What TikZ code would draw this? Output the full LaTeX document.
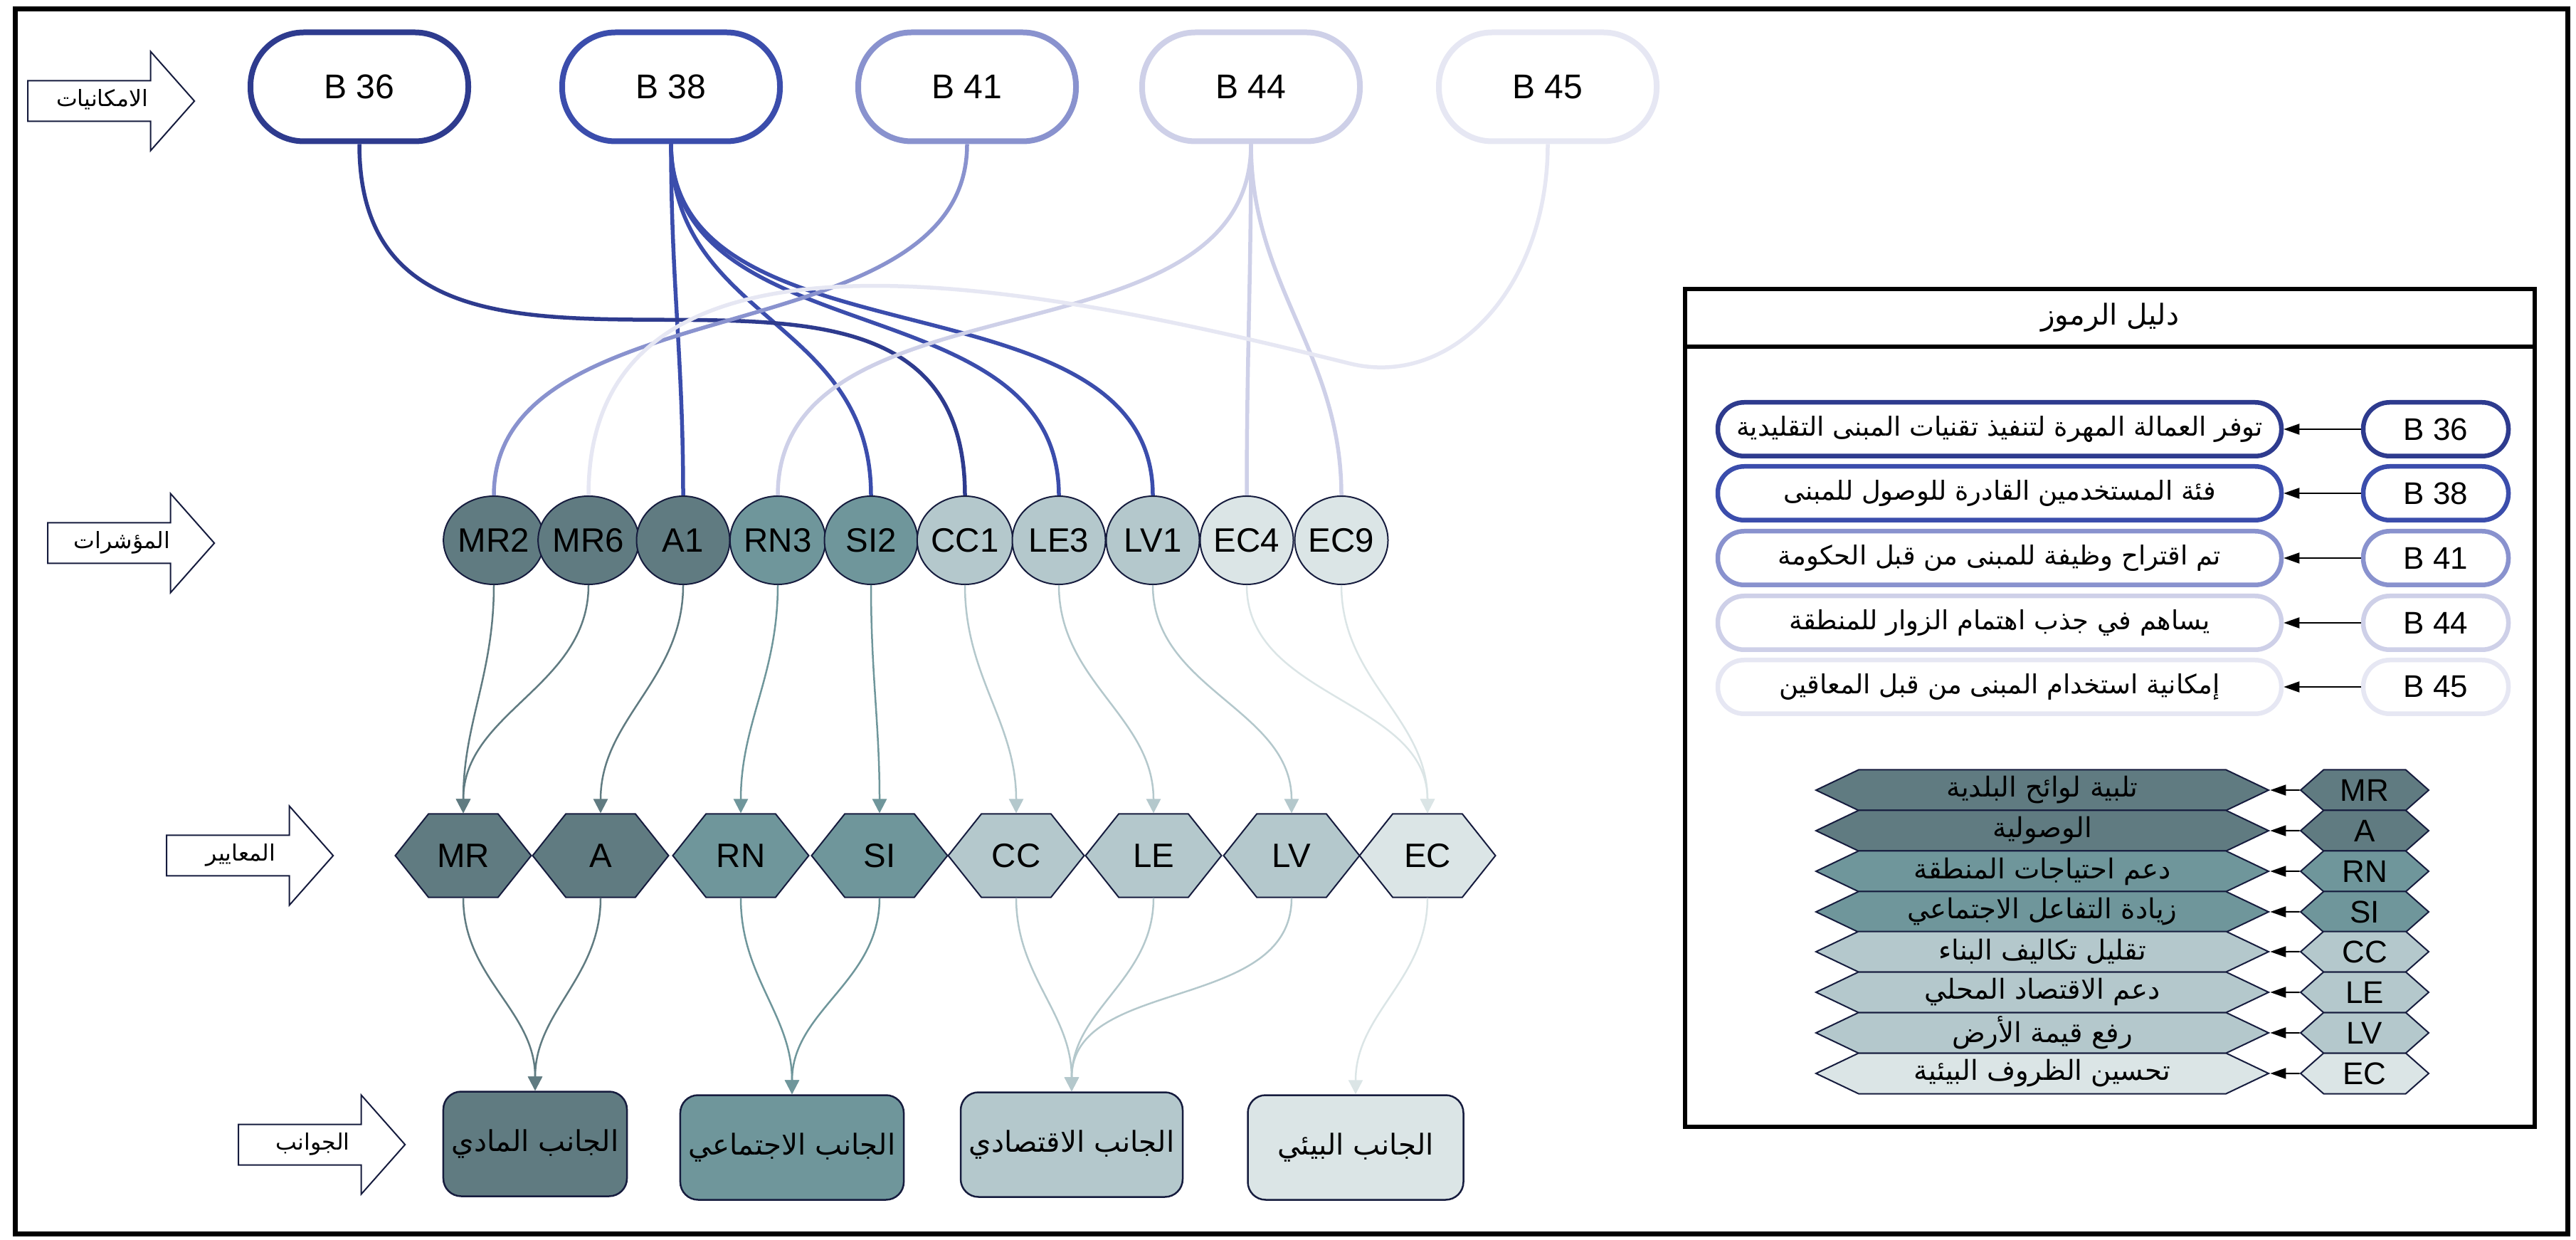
\documentclass[tikz,border=0pt]{standalone}
\usepackage{fontspec}
\setmainfont{Liberation Sans}
\newfontfamily\arabicfont[Script=Arabic]{DejaVu Sans}
\TeXXeTstate=1
\usepackage{tikz}
\usetikzlibrary{arrows.meta}
\usetikzlibrary{shapes.geometric}
\usetikzlibrary{shapes.symbols}
\usetikzlibrary{shapes.arrows}
\usepackage{xcolor}
\definecolor{blueA}{RGB}{46, 59, 142}
\definecolor{blueB}{RGB}{59, 77, 172}
\definecolor{blueC}{RGB}{137, 146, 206}
\definecolor{blueD}{RGB}{206, 208, 232}
\definecolor{blueE}{RGB}{230, 231, 243}
\definecolor{tealA}{RGB}{96, 123, 129}
\definecolor{tealB}{RGB}{111, 150, 155}
\definecolor{tealC}{RGB}{180, 200, 204}
\definecolor{tealD}{RGB}{219, 229, 230}
\definecolor{navy}{RGB}{22, 28, 62}
\newcommand{\artext}[1]{{\arabicfont\beginR #1\endR}}

\begin{document}
\begin{tikzpicture}
        [potential/.style = {draw=#1, fill=white, text=black, line width=0.8mm, rounded corners=7.5mm, minimum width=30.6mm, minimum height=15.3mm, font=\fontsize{13.7}{16}\selectfont},
        indicator/.style = {draw=navy, fill=#1, text=black, ellipse, line width=0.2mm, inner sep=0pt, minimum width=13.1mm, minimum height=12.4mm, font=\fontsize{13.5}{16}\selectfont},
        criterion/.style = {draw=navy, fill=#1, text=black, signal, signal to=east and west, signal pointer angle=103, line width=0.2mm, inner sep=0pt, minimum width=19.1mm, minimum height=11.7mm, font=\fontsize{13.5}{16}\selectfont},
        aspect/.style = {draw=navy, fill=#1, text=black, rounded corners=2.5mm, line width=0.25mm, minimum height=14.7mm, font=\fontsize{11.5}{14}\selectfont},
        stage/.style = {draw=navy, fill=white, single arrow, single arrow head extend=4.1mm, single arrow tip angle=97, line width=0.2mm, text width=20.3mm, align=center, text height=2.5mm, text depth=1mm, inner xsep=0.2mm, inner ysep=1mm, anchor=tail, font=\fontsize{9}{11}\selectfont},
        lines/.style = {draw=#1, line width=0.55mm},
        flow/.style = {draw=#1, line width=0.25mm, -{Triangle[length=2mm, width=2mm]}},
        keytext/.style = {draw=#1, fill=white, line width=0.65mm, rounded corners=3.7mm, minimum width=79.2mm, minimum height=7.55mm, font=\fontsize{10.5}{13}\selectfont},
        keycode/.style = {draw=#1, fill=white, line width=0.65mm, rounded corners=3.7mm, minimum width=20.4mm, minimum height=7.55mm, font=\fontsize{12.5}{15}\selectfont},
        keyshape/.style = {draw=navy, fill=#1, signal, signal to=east and west, signal pointer angle=51, line width=0.2mm, inner sep=0pt, minimum width=63.6mm, minimum height=5.7mm, font=\fontsize{11}{13}\selectfont},
        keyabbr/.style = {draw=navy, fill=#1, signal, signal to=east and west, signal pointer angle=83, line width=0.2mm, inner sep=0pt, minimum width=18mm, minimum height=5.7mm, font=\fontsize{12.5}{15}\selectfont},
        pointer/.style = {draw=black, line width=0.2mm, -{Triangle[length=2.2mm, width=1.5mm]}}]
        \useasboundingbox (0,0) rectangle (36.2,-17.42);
        \draw[line width=0.7mm] (0.21,-0.125) rectangle (36.08,-17.33);

        % stages (text pushed back into the shaft)
        \node[stage] (lev1) at (0.38,-1.42) {\artext{الامكانيات}\hspace*{3.9mm}};
        \node[stage] (lev2) at (0.66,-7.63) {\artext{المؤشرات}\hspace*{3.9mm}};
        \node[stage] (lev3) at (2.33,-12.02) {\artext{المعايير}\hspace*{3.9mm}};
        \node[stage] (lev4) at (3.34,-16.08) {\artext{الجوانب}\hspace*{3.9mm}};

        % potentials
        \node[potential=blueA] (B36) at (5.05,-1.22) {B 36};
        \node[potential=blueB] (B38) at (9.43,-1.22) {B 38};
        \node[potential=blueC] (B41) at (13.59,-1.22) {B 41};
        \node[potential=blueD] (B44) at (17.58,-1.22) {B 44};
        \node[potential=blueE] (B45) at (21.75,-1.22) {B 45};

        % indicators
        \node[indicator=tealA] (MR2) at (6.94,-7.59) {MR2};
        \node[indicator=tealA] (MR6) at (8.27,-7.59) {MR6};
        \node[indicator=tealA] (A1) at (9.60,-7.59) {A1};
        \node[indicator=tealB] (RN3) at (10.93,-7.59) {RN3};
        \node[indicator=tealB] (SI2) at (12.24,-7.59) {SI2};
        \node[indicator=tealC] (CC1) at (13.56,-7.59) {CC1};
        \node[indicator=tealC] (LE3) at (14.88,-7.59) {LE3};
        \node[indicator=tealC] (LV1) at (16.20,-7.59) {LV1};
        \node[indicator=tealD] (EC4) at (17.52,-7.59) {EC4};
        \node[indicator=tealD] (EC9) at (18.85,-7.59) {EC9};

        % criteria
        \node[criterion=tealA] (MR) at (6.51,-12.02) {MR};
        \node[criterion=tealA] (A) at (8.44,-12.02) {A};
        \node[criterion=tealB] (RN) at (10.41,-12.02) {RN};
        \node[criterion=tealB] (SI) at (12.36,-12.02) {SI};
        \node[criterion=tealC] (CC) at (14.28,-12.02) {CC};
        \node[criterion=tealC] (LE) at (16.21,-12.02) {LE};
        \node[criterion=tealC] (LV) at (18.15,-12.02) {LV};
        \node[criterion=tealD] (EC) at (20.06,-12.02) {EC};

        % aspects
        \node[aspect=tealA, minimum width=24mm] (phys) at (7.52,-16.07) {\artext{الجانب المادي}};
        \node[aspect=tealB, minimum width=30.5mm] (soc) at (11.13,-16.12) {\artext{الجانب الاجتماعي}};
        \node[aspect=tealC, minimum width=30.4mm] (eco) at (15.06,-16.08) {\artext{الجانب الاقتصادي}};
        \node[aspect=tealD, minimum width=30.3mm] (env) at (19.05,-16.12) {\artext{الجانب البيئي}};

        \draw[lines=blueB] (B38) to[out=-90, in=90] (A1);
        \draw[lines=blueB] (B38) to[out=-90, in=90, out distance=2.5cm, in distance=2.5cm] (SI2);
        \draw[lines=blueB] (B38) to[out=-90, in=90, out distance=3cm, in distance=3cm] (LE3);
        \draw[lines=blueB] (B38) to[out=-90, in=90, out distance=3.2cm, in distance=3.2cm] (LV1);
        \draw[lines=blueA] (B36) to[out=-90, in=90, out distance=4.9cm, in distance=4.9cm] (CC1);
        \draw[lines=blueC] (B41) to[out=-90, in=90, out distance=3cm, in distance=3cm] (MR2);
        \draw[lines=blueD] (B44) to[out=-90, in=90, out distance=3.2cm, in distance=3.2cm] (RN3);
        \draw[lines=blueD] (B44) to[out=-90, in=90] (EC4);
        \draw[lines=blueD] (B44) to[out=-90, in=90, out distance=2cm, in distance=2cm] (EC9);
        \draw[lines=blueE] (B45.south) to[out=-90, in=-14, out distance=2cm, in distance=1.5cm] ++(-2.79,-3.08)
            to[out=166, in=90, out distance=4.6cm, in distance=4.25cm] (MR6);

        \draw[flow=tealA] (MR2) to[out=-90, in=90] (MR);
        \draw[flow=tealA] (MR6) to[out=-90, in=90] (MR);
        \draw[flow=tealA] (A1) to[out=-90, in=90] (A);
        \draw[flow=tealB] (RN3) to[out=-90, in=90] (RN);
        \draw[flow=tealB] (SI2) to[out=-90, in=90] (SI);
        \draw[flow=tealC] (CC1) to[out=-90, in=90] (CC);
        \draw[flow=tealC] (LE3) to[out=-90, in=90] (LE);
        \draw[flow=tealC] (LV1) to[out=-90, in=90] (LV);
        \draw[flow=tealD] (EC4) to[out=-90, in=90] (EC);
        \draw[flow=tealD] (EC9) to[out=-90, in=90] (EC);

        \draw[flow=tealA] (MR) to[out=-90, in=90] (phys);
        \draw[flow=tealA] (A) to[out=-90, in=90] (phys);
        \draw[flow=tealB] (RN) to[out=-90, in=90] (soc);
        \draw[flow=tealB] (SI) to[out=-90, in=90] (soc);
        \draw[flow=tealC] (CC) to[out=-90, in=90] (eco);
        \draw[flow=tealC] (LE) to[out=-90, in=90] (eco);
        \draw[flow=tealC] (LV) to[out=-90, in=90] (eco);
        \draw[flow=tealD] (EC) to[out=-90, in=90] (env);

        % legend
        \node[draw, line width=0.6mm, minimum width=119.4mm, minimum height=117.7mm] (key) at (29.65,-9.945) {};
        \node[draw, line width=0.6mm, minimum width=119.4mm, minimum height=8.1mm, anchor=north, font=\fontsize{11.5}{14}\selectfont] (keytitle) at (key.north) {\artext{دليل الرموز}};

        \node[keycode=blueA] (k36) at (34.23,-6.03) {B 36};
        \node[keycode=blueB] (k38) at (34.23,-6.93) {B 38};
        \node[keycode=blueC] (k41) at (34.23,-7.84) {B 41};
        \node[keycode=blueD] (k44) at (34.23,-8.75) {B 44};
        \node[keycode=blueE] (k45) at (34.23,-9.65) {B 45};
        \node[keytext=blueA] (t36) at (28.10,-6.03) {\artext{توفر العمالة المهرة لتنفيذ تقنيات المبنى التقليدية}};
        \node[keytext=blueB] (t38) at (28.10,-6.93) {\artext{فئة المستخدمين القادرة للوصول للمبنى}};
        \node[keytext=blueC] (t41) at (28.10,-7.84) {\artext{تم اقتراح وظيفة للمبنى من قبل الحكومة}};
        \node[keytext=blueD] (t44) at (28.10,-8.75) {\artext{يساهم في جذب اهتمام الزوار للمنطقة}};
        \node[keytext=blueE] (t45) at (28.10,-9.65) {\artext{إمكانية استخدام المبنى من قبل المعاقين}};
        \draw[pointer] (k36) -- (t36);
        \draw[pointer] (k38) -- (t38);
        \draw[pointer] (k41) -- (t41);
        \draw[pointer] (k44) -- (t44);
        \draw[pointer] (k45) -- (t45);

        \node[keyabbr=tealA] (kMR) at (33.23,-11.10) {MR};
        \node[keyabbr=tealA] (kA) at (33.23,-11.67) {A};
        \node[keyabbr=tealB] (kRN) at (33.23,-12.24) {RN};
        \node[keyabbr=tealB] (kSI) at (33.23,-12.81) {SI};
        \node[keyabbr=tealC] (kCC) at (33.23,-13.37) {CC};
        \node[keyabbr=tealC] (kLE) at (33.23,-13.94) {LE};
        \node[keyabbr=tealC] (kLV) at (33.23,-14.51) {LV};
        \node[keyabbr=tealD] (kEC) at (33.23,-15.08) {EC};
        \node[keyshape=tealA] (dMR) at (28.70,-11.10) {\artext{تلبية لوائح البلدية}};
        \node[keyshape=tealA] (dA) at (28.70,-11.67) {\artext{الوصولية}};
        \node[keyshape=tealB] (dRN) at (28.70,-12.24) {\artext{دعم احتياجات المنطقة}};
        \node[keyshape=tealB] (dSI) at (28.70,-12.81) {\artext{زيادة التفاعل الاجتماعي}};
        \node[keyshape=tealC] (dCC) at (28.70,-13.37) {\artext{تقليل تكاليف البناء}};
        \node[keyshape=tealC] (dLE) at (28.70,-13.94) {\artext{دعم الاقتصاد المحلي}};
        \node[keyshape=tealC] (dLV) at (28.70,-14.51) {\artext{رفع قيمة الأرض}};
        \node[keyshape=tealD] (dEC) at (28.70,-15.08) {\artext{تحسين الظروف البيئية}};
        \draw[pointer] (kMR) -- (dMR);
        \draw[pointer] (kA) -- (dA);
        \draw[pointer] (kRN) -- (dRN);
        \draw[pointer] (kSI) -- (dSI);
        \draw[pointer] (kCC) -- (dCC);
        \draw[pointer] (kLE) -- (dLE);
        \draw[pointer] (kLV) -- (dLV);
        \draw[pointer] (kEC) -- (dEC);
\end{tikzpicture}
\end{document}
